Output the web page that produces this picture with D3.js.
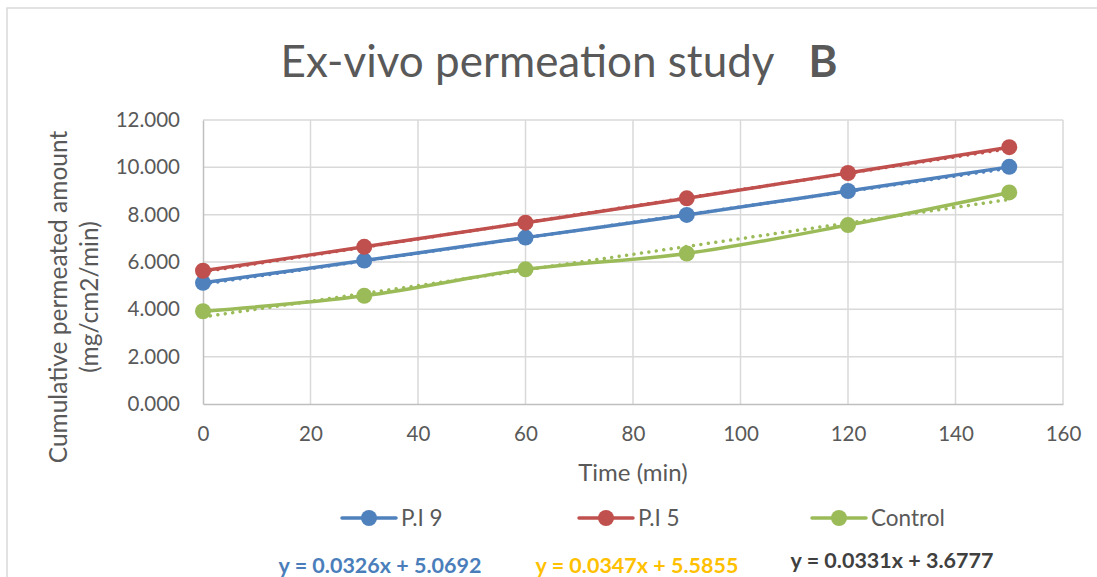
<!DOCTYPE html>
<html>
<head>
<meta charset="utf-8">
<script src="https://cdn.jsdelivr.net/npm/d3@7"></script>
<style>
  html, body { margin: 0; padding: 0; background: #fff; }
  svg { display: block; font-family: Lato, "Open Sans", sans-serif; }
</style>
</head>
<body>
<svg id="chart" width="1097" height="577"></svg>
<script>
// ---- data ----
const times = [0, 30, 60, 90, 120, 150];
const seriesNames = ["P.I 9", "P.I 5", "Control"];
const pi9 = [5.12, 6.06, 7.03, 7.99, 9.00, 10.02];
const pi5 = [5.63, 6.64, 7.66, 8.69, 9.76, 10.85];
const control = [3.92, 4.57, 5.69, 6.36, 7.56, 8.94];
const trendSlopes = [0.0326, 0.0347, 0.0331];
const trendIntercepts = [5.0692, 5.5855, 3.6777];
const equationLabels = ["y = 0.0326x + 5.0692", "y = 0.0347x + 5.5855", "y = 0.0331x + 3.6777"];
const xTicks = [0, 20, 40, 60, 80, 100, 120, 140, 160];
const yTicks = [0, 2, 4, 6, 8, 10, 12];

(function () {
const colors = ["#4F81BD", "#C0504D", "#9BBB59"];
const eqColors = ["#4A7EBB", "#FFC000", "#404040"];
const values = [pi9, pi5, control];

const svg = d3.select("#chart");
const textColor = "#595959";

// chart border
svg.append("rect").attr("x", 7).attr("y", 8).attr("width", 1100).attr("height", 600)
  .attr("fill", "none").attr("stroke", "#D9D9D9").attr("stroke-width", 1.5);

const pL = 203, pR = 1063, pT = 120, pB = 404;
const x = d3.scaleLinear().domain([0, 160]).range([pL, pR]);
const y = d3.scaleLinear().domain([0, 12]).range([pB, pT]);

// gridlines
const g = svg.append("g");
g.selectAll("line.hg").data(yTicks.slice(1)).join("line")
  .attr("x1", pL).attr("x2", pR).attr("y1", d => y(d)).attr("y2", d => y(d))
  .attr("stroke", "#D9D9D9").attr("stroke-width", 1.5);
g.selectAll("line.vg").data(xTicks.slice(1)).join("line")
  .attr("y1", pT).attr("y2", pB).attr("x1", d => x(d)).attr("x2", d => x(d))
  .attr("stroke", "#D9D9D9").attr("stroke-width", 1.5);

// axes
const xAxis = d3.axisBottom(x).tickValues(xTicks).tickSize(0).tickPadding(22).tickFormat(d3.format("d"));
const yAxis = d3.axisLeft(y).tickValues(yTicks).tickSize(0).tickPadding(23).tickFormat(d3.format(".3f"));
const gx = svg.append("g").attr("transform", `translate(0,${pB})`).call(xAxis);
const gy = svg.append("g").attr("transform", `translate(${pL},0)`).call(yAxis);
[gx, gy].forEach(a => {
  a.select(".domain").attr("stroke", "#BFBFBF").attr("stroke-width", 1.5);
  a.selectAll("text").attr("fill", textColor).style("font-size", "20.5px").style("font-family", "Lato, sans-serif");
});

// trendlines
trendSlopes.forEach((s, i) => {
  svg.append("line")
    .attr("x1", x(0)).attr("y1", y(trendIntercepts[i]))
    .attr("x2", x(150)).attr("y2", y(trendIntercepts[i] + s * 150))
    .attr("stroke", colors[i]).attr("stroke-width", 3.5)
    .attr("stroke-linecap", "round").attr("stroke-dasharray", "0.01 7.5");
});

// series lines
const line = d3.line().x((d, i) => x(times[i])).y(d => y(d)).curve(d3.curveCatmullRom.alpha(0.5));
values.forEach((vals, i) => {
  svg.append("path").datum(vals).attr("d", line)
    .attr("fill", "none").attr("stroke", colors[i]).attr("stroke-width", 3.5)
    .attr("stroke-linejoin", "round").attr("stroke-linecap", "round");
  svg.append("g").selectAll("circle").data(vals).join("circle")
    .attr("cx", (d, j) => x(times[j])).attr("cy", d => y(d)).attr("r", 8)
    .attr("fill", colors[i]);
});

// title
const title = svg.append("text").attr("x", 559).attr("y", 77).attr("text-anchor", "middle")
  .attr("fill", textColor).style("font-size", "44px");
title.append("tspan").text("Ex-vivo permeation study");
title.append("tspan").attr("font-weight", "bold").attr("dx", 34).text("B");

// axis titles
svg.append("text").attr("x", 633).attr("y", 481).attr("text-anchor", "middle")
  .attr("fill", textColor).style("font-size", "24px").text("Time (min)");
const yt = svg.append("text").attr("transform", "translate(67,297) rotate(-90)")
  .attr("text-anchor", "middle").attr("fill", textColor).style("font-size", "24.5px");
yt.append("tspan").attr("x", 0).attr("dy", 0).text("Cumulative permeated amount");
yt.append("tspan").attr("x", 0).attr("dy", 31).text("(mg/cm2/min)");

// legend
const legendX = [342, 579, 812];
seriesNames.forEach((n, i) => {
  const lg = svg.append("g").attr("transform", `translate(${legendX[i]},518)`);
  lg.append("line").attr("x1", 0).attr("x2", 54).attr("stroke", colors[i]).attr("stroke-width", 3.5)
    .attr("stroke-linecap", "round");
  lg.append("circle").attr("cx", 27).attr("r", 8).attr("fill", colors[i]);
  lg.append("text").attr("x", 59).attr("y", 8).attr("fill", textColor).style("font-size", "22.5px").text(n);
});

// equations
const eqX = [380, 637, 892];
const eqY = [573, 573, 568];
equationLabels.forEach((t, i) => {
  svg.append("text").attr("x", eqX[i]).attr("y", eqY[i]).attr("text-anchor", "middle")
    .attr("fill", eqColors[i]).attr("font-weight", "bold").style("font-size", "21.5px").text(t);
});
})();
</script>
</body>
</html>
